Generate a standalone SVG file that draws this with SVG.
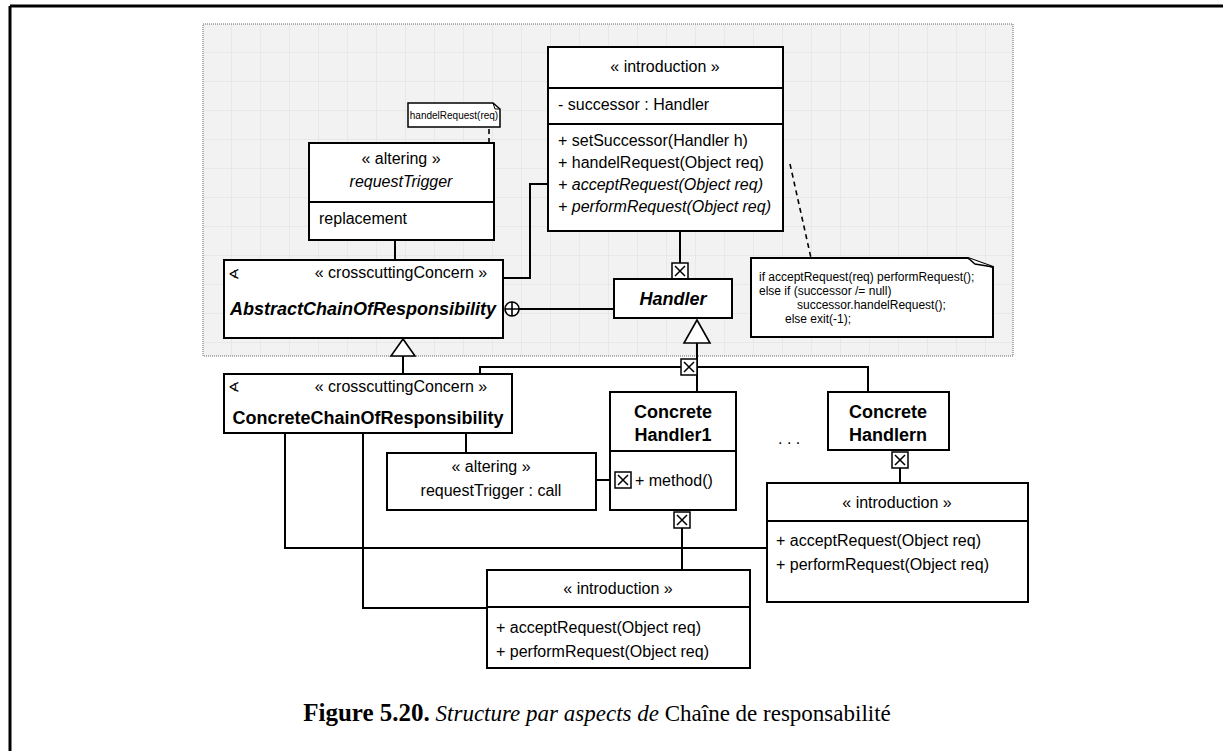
<svg xmlns="http://www.w3.org/2000/svg" xmlns:xlink="http://www.w3.org/1999/xlink" width="1223" height="751" viewBox="0 0 1223 751">
<style>
.box{fill:#fff;stroke:#000;stroke-width:2}
.ln{fill:none;stroke:#000;stroke-width:2}
.dash{fill:none;stroke:#000;stroke-width:1.6;stroke-dasharray:5,4}
.t{font-family:"Liberation Sans",Arial,sans-serif;font-size:16px;fill:#000}
.c{text-anchor:middle}
.b{font-weight:bold;font-size:18px}
.i{font-style:italic}
.s{font-size:12px}
.xs{font-size:10px}
.sym{font-family:"DejaVu Sans",sans-serif;font-size:14px}
.cap{font-family:"Liberation Serif","Times New Roman",serif;font-size:23px;fill:#000}
</style>
<defs>
<pattern id="grid" x="203" y="24" width="29" height="29" patternUnits="userSpaceOnUse">
<rect width="29" height="29" fill="#f2f2f2"/>
<path d="M29,0 V29 M0,29 H29" stroke="#dedede" stroke-width="1"/>
</pattern>
<g id="xb">
<rect x="0" y="0" width="16" height="16" fill="#fff" stroke="#000" stroke-width="1.5"/>
<path d="M3,3 L13,13 M13,3 L3,13" stroke="#000" stroke-width="1.5"/>
</g>
</defs>
<rect width="1223" height="751" fill="#fff"/>
<g id="frame">
<line x1="10" y1="6" x2="1223" y2="6" stroke="#000" stroke-width="3"/>
<line x1="10" y1="6" x2="10" y2="751" stroke="#000" stroke-width="3"/>
</g>
<g id="aspect-area">
<rect x="203" y="24" width="810" height="332" fill="url(#grid)" stroke="#666" stroke-width="1" stroke-dasharray="1,1"/>
</g>
<g id="connectors">
<path class="dash" d="M446,217 H489 V127"/>
<path class="dash" d="M790,164 L811,258"/>
<path class="ln" d="M395,240 V260"/>
<path class="ln" d="M548,184 H530 V278 H503"/>
<path class="ln" d="M519,309 H614"/>
<path class="ln" d="M680,231 V263"/>
<path class="ln" d="M697,343 V392"/>
<path class="ln" d="M403,356 V374"/>
<path class="ln" d="M480,374 V367 H681"/>
<path class="ln" d="M697,367 H868 V392"/>
<path class="ln" d="M466,433 V453"/>
<path class="ln" d="M596,480 H615"/>
<path class="ln" d="M900,468 V483"/>
<path class="ln" d="M682,528 V570"/>
<path class="ln" d="M285,433 V548 H767"/>
<path class="ln" d="M363,433 V608 H487"/>
<circle cx="512" cy="309" r="7" fill="#fff" stroke="#000" stroke-width="1.6"/>
<path d="M505,309 H519 M512,302 V316" stroke="#000" stroke-width="1.6"/>
<polygon points="697,320 684,343 710,343" fill="#fff" stroke="#000" stroke-width="1.6"/>
<polygon points="403,339 391,356 415,356" fill="#fff" stroke="#000" stroke-width="1.6"/>
<use xlink:href="#xb" x="672" y="263"/>
<use xlink:href="#xb" x="681" y="359"/>
<use xlink:href="#xb" x="674" y="512"/>
<use xlink:href="#xb" x="892" y="452"/>
</g>
<g id="note-handel">
<path d="M408,103 H493 L500,109 V127 H408 Z" fill="#fff" stroke="#000" stroke-width="1.5"/>
<path d="M493,103 L495,109 L500,109" fill="none" stroke="#000" stroke-width="1"/>
<text class="t xs c" x="454" y="119">handelRequest(req)</text>
</g>
<g id="intro-top">
<rect class="box" x="548" y="47" width="235" height="184"/>
<line class="ln" x1="548" y1="88" x2="783" y2="88"/>
<line class="ln" x1="548" y1="124" x2="783" y2="124"/>
<text class="t c" x="665" y="72">« introduction »</text>
<text class="t" x="558" y="110">- successor : Handler</text>
<text class="t" x="558" y="146">+ setSuccessor(Handler h)</text>
<text class="t" x="558" y="168">+ handelRequest(Object req)</text>
<text class="t i" x="558" y="190">+ acceptRequest(Object req)</text>
<text class="t i" x="558" y="212">+ performRequest(Object req)</text>
</g>
<g id="altering-top">
<rect class="box" x="309" y="143" width="185" height="97"/>
<line class="ln" x1="309" y1="202" x2="494" y2="202"/>
<text class="t c" x="401" y="164">« altering »</text>
<text class="t c i" x="401" y="187">requestTrigger</text>
<text class="t" x="319" y="224">replacement</text>
</g>
<g id="abstract-chain">
<rect class="box" x="224" y="260" width="279" height="78"/>
<text class="sym" x="228" y="279">∢</text>
<text class="t c" x="401" y="278">« crosscuttingConcern »</text>
<text class="t c b i" x="363" y="315">AbstractChainOfResponsibility</text>
</g>
<g id="handler">
<rect class="box" x="614" y="279" width="118" height="39"/>
<text class="t c b i" x="673" y="305">Handler</text>
</g>
<g id="note-code">
<path d="M751,258 H968 L993,267 V337 H751 Z" fill="#fff" stroke="#000" stroke-width="2"/>
<path d="M968,258 L975,264 L993,267" fill="#fff" stroke="#000" stroke-width="1.5"/>
<text class="t s" x="759" y="281">if acceptRequest(req) performRequest();</text>
<text class="t s" x="759" y="295">else if (successor /= null)</text>
<text class="t s" x="797" y="309">successor.handelRequest();</text>
<text class="t s" x="785" y="323">else exit(-1);</text>
</g>
<g id="concrete-chain">
<rect class="box" x="224" y="374" width="288" height="59"/>
<text class="sym" x="228" y="392">∢</text>
<text class="t c" x="401" y="392">« crosscuttingConcern »</text>
<text class="t c b" x="368" y="424">ConcreteChainOfResponsibility</text>
</g>
<g id="concrete-handler1">
<rect class="box" x="610" y="392" width="126" height="118"/>
<line class="ln" x1="610" y1="451" x2="736" y2="451"/>
<text class="t c b" x="673" y="418">Concrete</text>
<text class="t c b" x="673" y="441">Handler1</text>
<use xlink:href="#xb" x="615" y="472"/>
<text class="t" x="635" y="486">+ method()</text>
</g>
<g id="altering-call">
<rect class="box" x="387" y="453" width="209" height="57"/>
<text class="t c" x="491" y="472">« altering »</text>
<text class="t c" x="491" y="496">requestTrigger : call</text>
</g>
<g id="ellipsis">
<text class="t" x="778" y="444">. . .</text>
</g>
<g id="concrete-handlern">
<rect class="box" x="828" y="392" width="121" height="58"/>
<text class="t c b" x="888" y="418">Concrete</text>
<text class="t c b" x="888" y="441">Handlern</text>
</g>
<g id="intro-handlern">
<rect class="box" x="767" y="483" width="261" height="119"/>
<line class="ln" x1="767" y1="521" x2="1028" y2="521"/>
<text class="t c" x="897" y="508">« introduction »</text>
<text class="t" x="776" y="546">+ acceptRequest(Object req)</text>
<text class="t" x="776" y="570">+ performRequest(Object req)</text>
</g>
<g id="intro-handler1">
<rect class="box" x="487" y="570" width="263" height="98"/>
<line class="ln" x1="487" y1="607" x2="750" y2="607"/>
<text class="t c" x="618" y="594">« introduction »</text>
<text class="t" x="496" y="633">+ acceptRequest(Object req)</text>
<text class="t" x="496" y="657">+ performRequest(Object req)</text>
</g>
<g id="caption">
<text class="cap" x="597" y="721" text-anchor="middle"><tspan font-weight="bold" font-size="25">Figure 5.20.</tspan> <tspan font-style="italic">Structure par aspects de</tspan> Chaîne de responsabilité</text>
</g>
</svg>
